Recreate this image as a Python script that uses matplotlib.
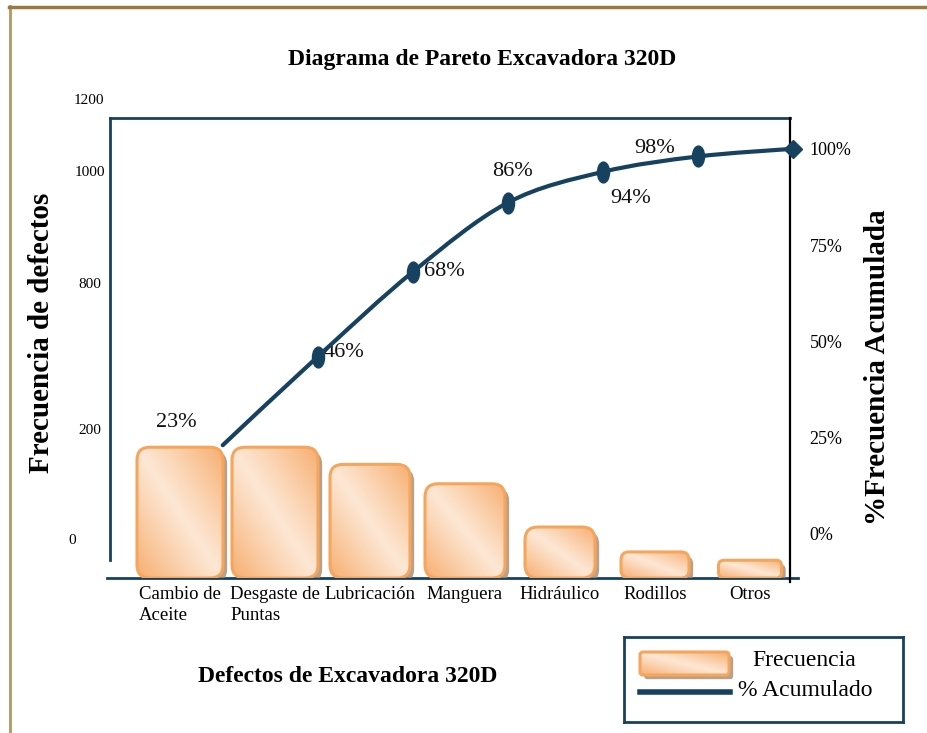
import numpy as np
import matplotlib
matplotlib.use('Agg')
import matplotlib.pyplot as plt
import matplotlib.patheffects as pe
from matplotlib.patches import FancyBboxPatch, PathPatch
from matplotlib.markers import MarkerStyle
from matplotlib.path import Path
from matplotlib.transforms import Affine2D

plt.rcParams['font.family'] = ['Liberation Serif', 'DejaVu Serif']

# --- Datos ---
categorias = ['Cambio de\nAceite', 'Desgaste de\nPuntas', 'Lubricación',
              'Manguera', 'Hidráulico', 'Rodillos', 'Otros']
frecuencia = [236, 236, 205, 170, 92, 47, 32]
pct_acumulado = [23, 46, 68, 86, 94, 98, 100]
ticks_izq = ['1200', '1000', '800', '200', '0']
ticks_der = [0, 25, 50, 75, 100]

# --- Layout (pixeles de la imagen original) ---
W, H = 928, 733
AX_L, AX_R, AX_T, AX_B = 110, 790, 118, 578
XLIM = (-0.7368, 6.421)
YLIM = (0, 830)
Y2LIM = (-11.5, 108.0)
anchos_px = [86, 86, 80, 80, 70, 68, 63]
izq_pos_px = [(89, 100), (90, 173), (90, 284), (90, 430), (72, 541)]
offsets_pct = [(-46, 23), (26, 4), (32, 0), (5, 31), (28, -27), (-43, 8)]

NAVY = '#17425f'
ORANGE_EDGE = '#f5a65c'
LIGHT = np.array([253, 231, 212]) / 255
DARK = np.array([247, 174, 112]) / 255


def fx(x):
    return x / W


def fy(y):
    return 1 - y / H


def barra_redondeada(ax, x0, y0, w, h, r_px, px_x, px_y, zorder=2):
    """Rectangulo redondeado con degradado diagonal y sombra."""
    estilo = f"round,pad=0,rounding_size={r_px / px_x}"
    base = FancyBboxPatch((x0, y0), w, h, boxstyle=estilo,
                          mutation_aspect=px_x / px_y,
                          fc=LIGHT, ec='none', zorder=zorder,
                          path_effects=[pe.SimplePatchShadow(offset=(3, -3),
                                                             shadow_rgbFace='#a88a6c',
                                                             alpha=0.8),
                                        pe.Normal()])
    ax.add_patch(base)
    n = 120
    u, v = np.meshgrid(np.linspace(0, 1, n), np.linspace(0, 1, n))
    t = np.abs(u + v - 1) ** 1.1
    img = LIGHT + (DARK - LIGHT) * t[..., None]
    im = ax.imshow(img, extent=[x0, x0 + w, y0, y0 + h], origin='lower',
                   aspect='auto', zorder=zorder + 0.1, interpolation='bilinear')
    im.set_clip_path(base)
    borde = FancyBboxPatch((x0, y0), w, h, boxstyle=estilo,
                           mutation_aspect=px_x / px_y,
                           fc='none', ec=ORANGE_EDGE, lw=2.2, zorder=zorder + 0.2)
    ax.add_patch(borde)


fig = plt.figure(figsize=(W / 100, H / 100), dpi=100)
fig.patch.set_facecolor('white')

ax = fig.add_axes([fx(AX_L), fy(AX_B), (AX_R - AX_L) / W, (AX_B - AX_T) / H])
px_x = (AX_R - AX_L) / (XLIM[1] - XLIM[0])
px_y = (AX_B - AX_T) / (YLIM[1] - YLIM[0])

x = np.arange(len(categorias))
for xi, f, wpx in zip(x, frecuencia, anchos_px):
    w = wpx / px_x
    hpx = f * px_y
    r = min(13, 0.3 * min(wpx, hpx))
    barra_redondeada(ax, xi - w / 2, 0, w, f, r, px_x, px_y)

# linea base
ax.plot([(107 - AX_L) / (AX_R - AX_L), (798 - AX_L) / (AX_R - AX_L)], [0, 0],
        transform=ax.transAxes, color=NAVY, lw=2, clip_on=False, zorder=1)

ax.set_xlim(*XLIM)
ax.set_ylim(*YLIM)
ax.set_xticks(x, categorias)
ax.tick_params(axis='x', length=0, pad=6, labelsize=13.5)
for lab in ax.get_xticklabels():
    lab.set_multialignment('left')
    lab.set_linespacing(1.3)
ax.set_yticks([])
for s in ['right', 'bottom']:
    ax.spines[s].set_visible(False)
ax.spines['top'].set_color(NAVY)
ax.spines['top'].set_linewidth(2)
ax.spines['left'].set_color(NAVY)
ax.spines['left'].set_linewidth(2)
ax.spines['left'].set_bounds(32, YLIM[1])

for lab, (xp, yp) in zip(ticks_izq, izq_pos_px):
    fig.text(fx(xp), fy(yp), lab, ha='center', va='center', fontsize=11)

# eje secundario: % acumulado
ax2 = ax.twinx()
ax2.set_ylim(*Y2LIM)
ax2.set_xlim(*XLIM)
for s in ['top', 'left', 'bottom']:
    ax2.spines[s].set_visible(False)
ax2.spines['right'].set_color('black')
ax2.spines['right'].set_linewidth(1.6)
ax2.spines['right'].set_bounds(Y2LIM[0] - 1.0, Y2LIM[1])
ax2.set_yticks(ticks_der, [f'{t}%' for t in ticks_der])
ax2.tick_params(axis='y', length=0, pad=14, labelsize=13)

xs = x + 0.45
ys = np.array(pct_acumulado, dtype=float)
P = np.column_stack([xs, ys])
Pext = np.vstack([P[0], P, P[-1]])
verts = [P[0]]
codes = [Path.MOVETO]
for i in range(len(P) - 1):
    p0, p1, p2, p3 = Pext[i], Pext[i + 1], Pext[i + 2], Pext[i + 3]
    verts += [p1 + (p2 - p0) / 6, p2 - (p3 - p1) / 6, p2]
    codes += [Path.CURVE4] * 3
curva = PathPatch(Path(verts, codes), fc='none', ec=NAVY, lw=3, clip_on=False,
                  capstyle='round', zorder=5)
ax2.add_patch(curva)

ovalo = MarkerStyle('o', transform=Affine2D().scale(0.58, 1.0))
ax2.plot(xs[1:-1], ys[1:-1], ls='none', marker=ovalo, ms=15, color=NAVY,
         clip_on=False, zorder=6)
ax2.plot(xs[-1:], ys[-1:], ls='none', marker='D', ms=9, color=NAVY,
         clip_on=False, zorder=6)

for xi, yi, p, off in zip(xs, ys, pct_acumulado, offsets_pct):
    ax2.annotate(f'{p}%', (xi, yi), xytext=off, textcoords='offset pixels',
                 ha='center', va='center', fontsize=16, color='#111111')

# textos
fig.text(fx(482), fy(60), 'Diagrama de Pareto Excavadora 320D',
         ha='center', va='center', fontsize=17, fontweight='bold')
fig.text(fx(348), fy(676), 'Defectos de Excavadora 320D',
         ha='center', va='center', fontsize=17, fontweight='bold')
fig.text(fx(42), fy(333), 'Frecuencia de defectos', rotation=90,
         ha='center', va='center', fontsize=21, fontweight='bold')
fig.text(fx(878), fy(367), '%Frecuencia Acumulada', rotation=90,
         ha='center', va='center', fontsize=21, fontweight='bold')

# leyenda manual
LG_L, LG_R, LG_T, LG_B = 624, 903, 637, 722
lg = fig.add_axes([fx(LG_L), fy(LG_B), (LG_R - LG_L) / W, (LG_B - LG_T) / H])
lg.set_xticks([])
lg.set_yticks([])
for s in lg.spines.values():
    s.set_color(NAVY)
    s.set_linewidth(2)
lpx_x = LG_R - LG_L
lpx_y = LG_B - LG_T
barra_redondeada(lg, 16 / lpx_x, 47 / lpx_y, 89 / lpx_x, 23 / lpx_y, 3, lpx_x, lpx_y)
lg.plot([16 / lpx_x, 106 / lpx_x], [30 / lpx_y, 30 / lpx_y], color=NAVY, lw=4)
lg.set_xlim(0, 1)
lg.set_ylim(0, 1)
lg.text(128 / lpx_x, 61 / lpx_y, 'Frecuencia', ha='left', va='center', fontsize=17)
lg.text(114 / lpx_x, 32 / lpx_y, '% Acumulado', ha='left', va='center', fontsize=17)

# marco exterior
fig.add_artist(plt.Line2D([fx(10), fx(10)], [fy(6), 0], transform=fig.transFigure,
                          color='#b8955e', lw=2))
fig.add_artist(plt.Line2D([fx(9), 1], [fy(7), fy(7)], transform=fig.transFigure,
                          color='#9a7842', lw=2.5))

fig.savefig('out.png', dpi=100, facecolor='white')
